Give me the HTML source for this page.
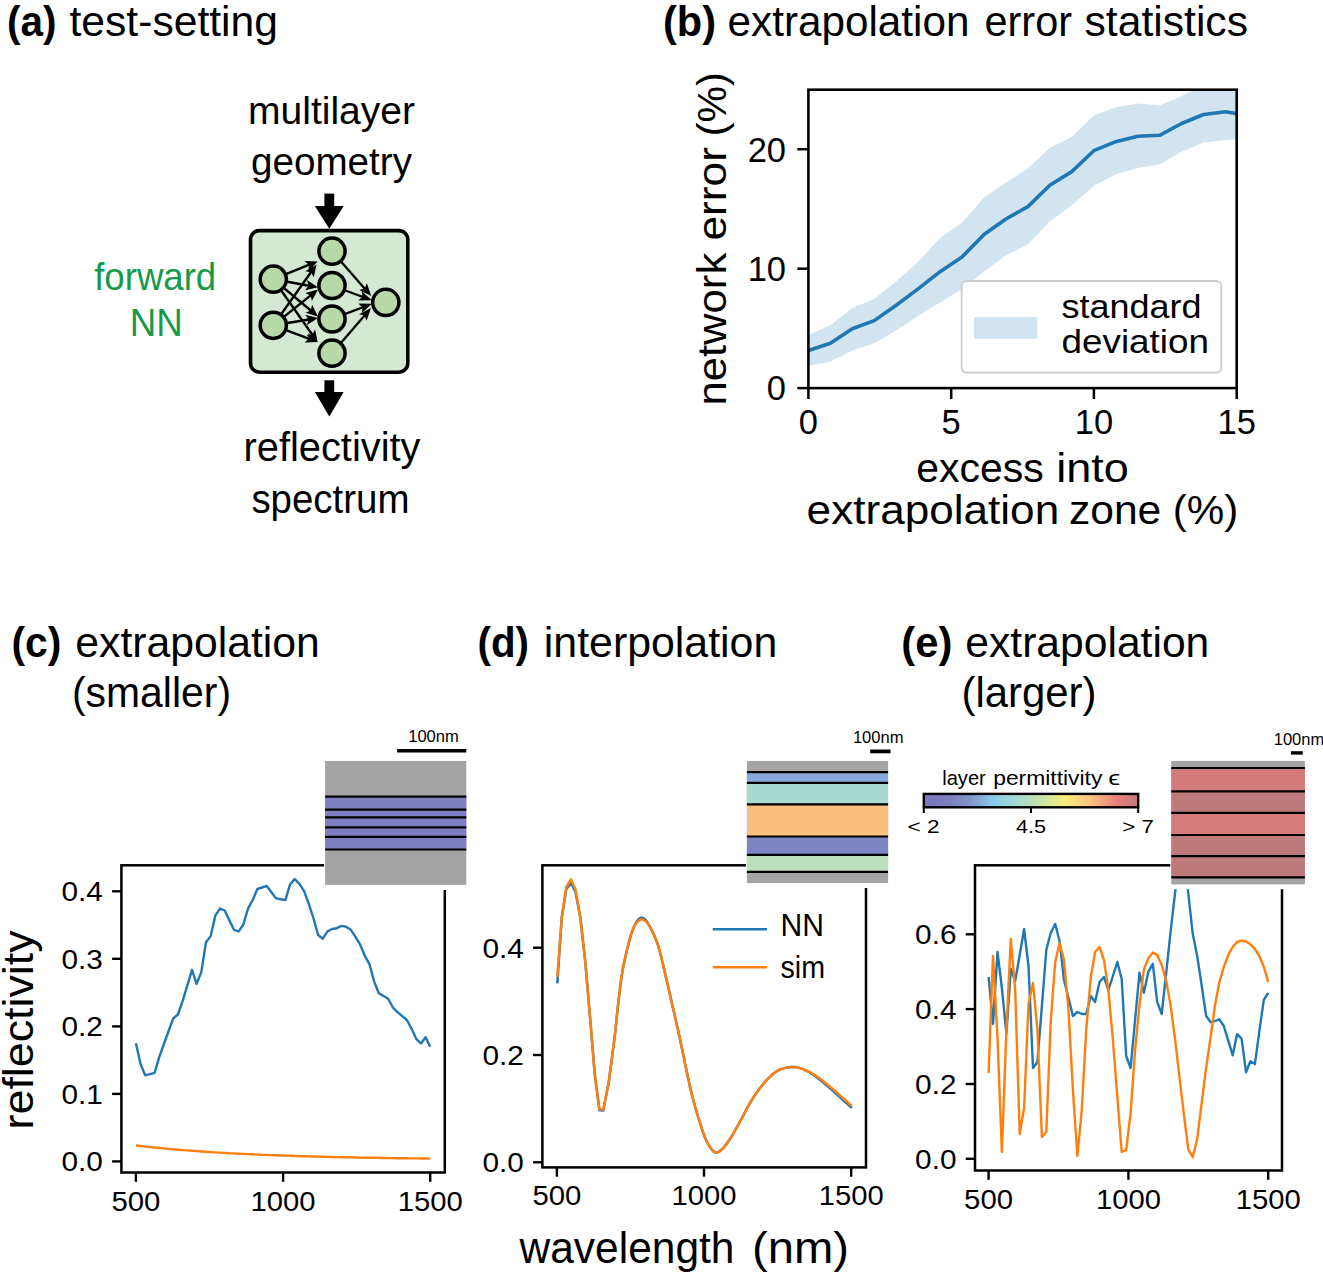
<!DOCTYPE html>
<html><head><meta charset="utf-8"><style>
html,body{margin:0;padding:0;background:#fff;overflow:hidden}
svg{display:block;font-family:"Liberation Sans",sans-serif}
</style></head><body>
<svg width="1323" height="1275" viewBox="0 0 1323 1275">
<rect width="1323" height="1275" fill="#fff"/>
<text x="7.0" y="35.8" font-size="42" text-anchor="start" font-weight="bold" fill="#000" textLength="49.5" lengthAdjust="spacingAndGlyphs" >(a)</text>
<text x="69.5" y="35.8" font-size="42" text-anchor="start" font-weight="normal" fill="#000" textLength="208.5" lengthAdjust="spacingAndGlyphs" >test-setting</text>
<text x="331.5" y="123.7" font-size="38" text-anchor="middle" font-weight="normal" fill="#000" textLength="167.0" lengthAdjust="spacingAndGlyphs" >multilayer</text>
<text x="331.5" y="175.2" font-size="38" text-anchor="middle" font-weight="normal" fill="#000" textLength="161.0" lengthAdjust="spacingAndGlyphs" >geometry</text>
<text x="155.2" y="289.7" font-size="39" text-anchor="middle" font-weight="normal" fill="#169a4a" textLength="122.0" lengthAdjust="spacingAndGlyphs" >forward</text>
<text x="156.2" y="336.1" font-size="39" text-anchor="middle" font-weight="normal" fill="#169a4a" textLength="53.0" lengthAdjust="spacingAndGlyphs" >NN</text>
<text x="332.0" y="461.1" font-size="40" text-anchor="middle" font-weight="normal" fill="#000" textLength="177.0" lengthAdjust="spacingAndGlyphs" >reflectivity</text>
<text x="330.4" y="513.0" font-size="40" text-anchor="middle" font-weight="normal" fill="#000" textLength="158.0" lengthAdjust="spacingAndGlyphs" >spectrum</text>
<rect x="324.4" y="193.6" width="9.8" height="13.3" fill="#000"/>
<polygon points="314.9,205.9 343.7,205.9 329.3,228.8" fill="#000"/>
<rect x="324.4" y="380.3" width="9.8" height="12.7" fill="#000"/>
<polygon points="314.9,392.0 343.7,392.0 329.3,416.4" fill="#000"/>
<rect x="250.5" y="230.6" width="157.3" height="141.6" rx="9" ry="9" fill="#d5e8d4" stroke="#000" stroke-width="3.6"/>
<line x1="286.6" y1="273.9" x2="309.3" y2="264.7" stroke="#000" stroke-width="2.5"/>
<polygon points="317.7,261.4 308.5,270.7 308.9,264.9 304.6,261.0" fill="#000"/>
<line x1="287.4" y1="281.8" x2="309.0" y2="285.7" stroke="#000" stroke-width="2.5"/>
<polygon points="317.9,287.3 305.2,290.3 308.6,285.6 307.0,280.0" fill="#000"/>
<line x1="284.3" y1="288.4" x2="311.1" y2="310.7" stroke="#000" stroke-width="2.5"/>
<polygon points="318.0,316.5 305.5,312.8 310.7,310.4 312.1,304.8" fill="#000"/>
<line x1="281.5" y1="290.9" x2="312.5" y2="335.0" stroke="#000" stroke-width="2.5"/>
<polygon points="317.7,342.4 306.5,335.6 312.2,334.6 315.1,329.6" fill="#000"/>
<line x1="281.6" y1="313.6" x2="311.3" y2="271.8" stroke="#000" stroke-width="2.5"/>
<polygon points="316.5,264.5 313.8,277.3 311.0,272.2 305.3,271.3" fill="#000"/>
<line x1="284.5" y1="316.4" x2="311.0" y2="295.1" stroke="#000" stroke-width="2.5"/>
<polygon points="318.0,289.5 311.9,301.1 310.6,295.4 305.4,292.9" fill="#000"/>
<line x1="287.4" y1="323.0" x2="309.1" y2="319.5" stroke="#000" stroke-width="2.5"/>
<polygon points="318.0,318.0 307.0,325.1 308.6,319.5 305.3,314.8" fill="#000"/>
<line x1="286.7" y1="330.3" x2="309.3" y2="338.8" stroke="#000" stroke-width="2.5"/>
<polygon points="317.7,342.0 304.6,342.6 308.8,338.7 308.3,332.9" fill="#000"/>
<line x1="341.4" y1="261.9" x2="365.0" y2="288.9" stroke="#000" stroke-width="2.3"/>
<polygon points="371.3,296.0 359.3,289.9 364.7,288.5 366.8,283.3" fill="#000"/>
<line x1="345.4" y1="290.5" x2="362.9" y2="297.0" stroke="#000" stroke-width="2.3"/>
<polygon points="371.8,300.3 358.3,300.6 362.4,296.8 361.8,291.3" fill="#000"/>
<line x1="345.4" y1="313.9" x2="362.9" y2="307.2" stroke="#000" stroke-width="2.3"/>
<polygon points="371.8,303.8 361.9,312.9 362.5,307.4 358.3,303.6" fill="#000"/>
<line x1="341.3" y1="342.4" x2="364.8" y2="315.2" stroke="#000" stroke-width="2.3"/>
<polygon points="371.0,308.0 366.6,320.7 364.5,315.6 359.0,314.2" fill="#000"/>
<circle cx="273.3" cy="279.2" r="13.1" fill="#b6d9a7" stroke="#000" stroke-width="3.5"/>
<circle cx="273.3" cy="325.3" r="13.1" fill="#b6d9a7" stroke="#000" stroke-width="3.5"/>
<circle cx="332.0" cy="251.2" r="13.1" fill="#b6d9a7" stroke="#000" stroke-width="3.5"/>
<circle cx="332.0" cy="285.5" r="13.1" fill="#b6d9a7" stroke="#000" stroke-width="3.5"/>
<circle cx="332.0" cy="319.0" r="13.1" fill="#b6d9a7" stroke="#000" stroke-width="3.5"/>
<circle cx="332.0" cy="353.2" r="13.1" fill="#b6d9a7" stroke="#000" stroke-width="3.5"/>
<circle cx="385.8" cy="302.4" r="13.1" fill="#b6d9a7" stroke="#000" stroke-width="3.5"/>
<text x="663.0" y="35.8" font-size="42" text-anchor="start" font-weight="bold" fill="#000" textLength="53.0" lengthAdjust="spacingAndGlyphs" >(b)</text>
<text x="727.5" y="35.8" font-size="42" text-anchor="start" font-weight="normal" fill="#000" textLength="242.0" lengthAdjust="spacingAndGlyphs" >extrapolation</text>
<text x="984.5" y="35.8" font-size="42" text-anchor="start" font-weight="normal" fill="#000" textLength="87.5" lengthAdjust="spacingAndGlyphs" >error</text>
<text x="1084.5" y="35.8" font-size="42" text-anchor="start" font-weight="normal" fill="#000" textLength="163.5" lengthAdjust="spacingAndGlyphs" >statistics</text>
<defs><clipPath id="clipb"><rect x="808.4" y="89.7" width="428.30000000000007" height="298.40000000000003"/></clipPath></defs>
<polygon points="808.4,335.1 830.4,325.2 852.3,307.9 874.2,298.9 896.2,281.6 918.1,261.7 940.1,238.1 962.0,222.8 984.0,197.4 1005.9,182.4 1027.9,168.5 1049.8,148.0 1071.8,137.1 1093.8,115.4 1115.7,107.2 1137.7,103.6 1159.6,105.4 1181.5,96.3 1203.5,84.0 1225.5,78.0 1247.4,78.0 1247.4,138.5 1225.5,139.9 1203.5,142.6 1181.5,151.7 1159.6,164.4 1137.7,168.0 1115.7,174.3 1093.8,186.1 1071.8,205.2 1049.8,221.5 1027.9,244.3 1005.9,255.5 984.0,271.7 962.0,288.9 940.1,302.5 918.1,316.1 896.2,330.6 874.2,343.3 852.3,350.6 830.4,361.5 808.4,366.0" fill="#d2e4f0" clip-path="url(#clipb)"/>
<polyline points="808.4,350.6 830.4,343.3 852.3,328.8 874.2,320.6 896.2,305.2 918.1,288.9 940.1,271.7 962.0,257.1 984.0,234.5 1005.9,219.0 1027.9,206.6 1049.8,185.2 1071.8,171.6 1093.8,150.7 1115.7,141.7 1137.7,136.2 1159.6,135.3 1181.5,123.5 1203.5,114.5 1225.5,111.7 1247.4,115.4" fill="none" stroke="#1f77b4" stroke-width="3.6" stroke-linejoin="round" stroke-linecap="butt" clip-path="url(#clipb)"/>
<rect x="961.6" y="281.0" width="259.7" height="91.6" rx="5" ry="5" fill="#fff" fill-opacity="0.8" stroke="#cccccc" stroke-width="1.8"/>
<rect x="973.9" y="317.0" width="63.3" height="21.8" fill="#d2e4f0" />
<text x="1061.5" y="317.6" font-size="32.5" text-anchor="start" font-weight="normal" fill="#000" textLength="140.0" lengthAdjust="spacingAndGlyphs" >standard</text>
<text x="1061.5" y="352.5" font-size="32.5" text-anchor="start" font-weight="normal" fill="#000" textLength="147.5" lengthAdjust="spacingAndGlyphs" >deviation</text>
<rect x="808.4" y="89.7" width="428.30000000000007" height="298.40000000000003" fill="none" stroke="#000" stroke-width="2.6"/>
<line x1="797.3" y1="388.1" x2="808.4" y2="388.1" stroke="#000" stroke-width="2.5" />
<text x="786.0" y="400.4" font-size="34.5" text-anchor="end" font-weight="normal" fill="#000" >0</text>
<line x1="797.3" y1="268.7" x2="808.4" y2="268.7" stroke="#000" stroke-width="2.5" />
<text x="786.0" y="281.0" font-size="34.5" text-anchor="end" font-weight="normal" fill="#000" >10</text>
<line x1="797.3" y1="149.2" x2="808.4" y2="149.2" stroke="#000" stroke-width="2.5" />
<text x="786.0" y="161.5" font-size="34.5" text-anchor="end" font-weight="normal" fill="#000" >20</text>
<line x1="808.4" y1="388.1" x2="808.4" y2="399.0" stroke="#000" stroke-width="2.5" />
<text x="808.4" y="434.3" font-size="34.5" text-anchor="middle" font-weight="normal" fill="#000" >0</text>
<line x1="951.2" y1="388.1" x2="951.2" y2="399.0" stroke="#000" stroke-width="2.5" />
<text x="951.2" y="434.3" font-size="34.5" text-anchor="middle" font-weight="normal" fill="#000" >5</text>
<line x1="1093.9" y1="388.1" x2="1093.9" y2="399.0" stroke="#000" stroke-width="2.5" />
<text x="1093.9" y="434.3" font-size="34.5" text-anchor="middle" font-weight="normal" fill="#000" >10</text>
<line x1="1236.7" y1="388.1" x2="1236.7" y2="399.0" stroke="#000" stroke-width="2.5" />
<text x="1236.7" y="434.3" font-size="34.5" text-anchor="middle" font-weight="normal" fill="#000" >15</text>
<text x="916.2" y="482.0" font-size="40" text-anchor="start" font-weight="normal" fill="#000" textLength="127.5" lengthAdjust="spacingAndGlyphs" >excess</text>
<text x="1056.3" y="482.0" font-size="40" text-anchor="start" font-weight="normal" fill="#000" textLength="72.6" lengthAdjust="spacingAndGlyphs" >into</text>
<text x="806.6" y="524.0" font-size="40" text-anchor="start" font-weight="normal" fill="#000" textLength="252.6" lengthAdjust="spacingAndGlyphs" >extrapolation</text>
<text x="1068.9" y="524.0" font-size="40" text-anchor="start" font-weight="normal" fill="#000" textLength="92.4" lengthAdjust="spacingAndGlyphs" >zone</text>
<text x="1172.8" y="524.0" font-size="40" text-anchor="start" font-weight="normal" fill="#000" textLength="65.6" lengthAdjust="spacingAndGlyphs" >(%)</text>
<g transform="translate(726.3,0) rotate(-90)">
<text x="-405.6" y="0.0" font-size="40" text-anchor="start" font-weight="normal" fill="#000" textLength="152.8" lengthAdjust="spacingAndGlyphs" >network</text>
<text x="-240.6" y="0.0" font-size="40" text-anchor="start" font-weight="normal" fill="#000" textLength="93.5" lengthAdjust="spacingAndGlyphs" >error</text>
<text x="-136.2" y="0.0" font-size="40" text-anchor="start" font-weight="normal" fill="#000" textLength="63.9" lengthAdjust="spacingAndGlyphs" >(%)</text>
</g>
<text x="11.5" y="656.5" font-size="42" text-anchor="start" font-weight="bold" fill="#000" textLength="50.0" lengthAdjust="spacingAndGlyphs" >(c)</text>
<text x="75.3" y="656.5" font-size="42" text-anchor="start" font-weight="normal" fill="#000" textLength="244.5" lengthAdjust="spacingAndGlyphs" >extrapolation</text>
<text x="72.0" y="706.8" font-size="42" text-anchor="start" font-weight="normal" fill="#000" textLength="159.0" lengthAdjust="spacingAndGlyphs" >(smaller)</text>
<rect x="121.4" y="865.3" width="323.4" height="307.20000000000005" fill="none" stroke="#000" stroke-width="2.5"/>
<line x1="112.1" y1="1161.4" x2="121.4" y2="1161.4" stroke="#000" stroke-width="2.4" />
<text x="102.9" y="1171.2" font-size="27.5" text-anchor="end" font-weight="normal" fill="#000" textLength="41.4" lengthAdjust="spacingAndGlyphs" >0.0</text>
<line x1="112.1" y1="1093.9" x2="121.4" y2="1093.9" stroke="#000" stroke-width="2.4" />
<text x="102.9" y="1103.7" font-size="27.5" text-anchor="end" font-weight="normal" fill="#000" textLength="41.4" lengthAdjust="spacingAndGlyphs" >0.1</text>
<line x1="112.1" y1="1026.4" x2="121.4" y2="1026.4" stroke="#000" stroke-width="2.4" />
<text x="102.9" y="1036.2" font-size="27.5" text-anchor="end" font-weight="normal" fill="#000" textLength="41.4" lengthAdjust="spacingAndGlyphs" >0.2</text>
<line x1="112.1" y1="958.8" x2="121.4" y2="958.8" stroke="#000" stroke-width="2.4" />
<text x="102.9" y="968.6" font-size="27.5" text-anchor="end" font-weight="normal" fill="#000" textLength="41.4" lengthAdjust="spacingAndGlyphs" >0.3</text>
<line x1="112.1" y1="891.3" x2="121.4" y2="891.3" stroke="#000" stroke-width="2.4" />
<text x="102.9" y="901.1" font-size="27.5" text-anchor="end" font-weight="normal" fill="#000" textLength="41.4" lengthAdjust="spacingAndGlyphs" >0.4</text>
<line x1="135.9" y1="1172.5" x2="135.9" y2="1181.8" stroke="#000" stroke-width="2.4" />
<text x="135.9" y="1210.5" font-size="27.5" text-anchor="middle" font-weight="normal" fill="#000" textLength="49.0" lengthAdjust="spacingAndGlyphs" >500</text>
<line x1="283.1" y1="1172.5" x2="283.1" y2="1181.8" stroke="#000" stroke-width="2.4" />
<text x="283.1" y="1210.5" font-size="27.5" text-anchor="middle" font-weight="normal" fill="#000" textLength="65.0" lengthAdjust="spacingAndGlyphs" >1000</text>
<line x1="430.2" y1="1172.5" x2="430.2" y2="1181.8" stroke="#000" stroke-width="2.4" />
<text x="430.2" y="1210.5" font-size="27.5" text-anchor="middle" font-weight="normal" fill="#000" textLength="65.0" lengthAdjust="spacingAndGlyphs" >1500</text>
<polyline points="135.9,1043.3 140.6,1064.1 145.2,1075.3 149.9,1074.1 154.6,1072.9 159.3,1056.9 163.9,1044.0 168.6,1031.0 173.3,1018.4 177.9,1014.5 182.6,1001.2 187.3,985.5 192.0,969.8 196.6,983.9 201.3,972.1 206.0,942.3 210.7,936.1 215.3,915.7 220.0,908.6 224.7,910.5 229.3,920.2 234.0,929.8 238.7,931.4 243.4,924.3 248.0,908.6 252.7,900.0 257.4,889.0 262.0,887.5 266.7,885.9 271.4,892.2 276.1,898.4 280.7,899.2 285.4,900.0 290.1,884.3 294.7,879.1 299.4,883.8 304.1,891.1 308.8,903.9 313.4,918.0 318.1,935.0 322.8,938.7 327.5,931.4 332.1,929.0 336.8,928.2 341.5,925.9 346.1,926.7 350.8,929.8 355.5,936.9 360.2,944.7 364.8,955.7 369.5,964.3 374.2,981.6 378.8,993.3 383.5,996.0 388.2,998.8 392.9,1007.5 397.5,1012.2 402.2,1016.1 406.9,1020.0 411.5,1028.6 416.2,1038.8 420.9,1043.5 425.6,1037.3 430.2,1046.7" fill="none" stroke="#1f77b4" stroke-width="2.4" stroke-linejoin="round" stroke-linecap="butt" />
<polyline points="135.9,1145.5 140.6,1146.0 145.2,1146.6 149.9,1147.1 154.6,1147.5 159.3,1148.0 163.9,1148.4 168.6,1148.9 173.3,1149.3 177.9,1149.7 182.6,1150.1 187.3,1150.4 192.0,1150.8 196.6,1151.1 201.3,1151.5 206.0,1151.8 210.6,1152.1 215.3,1152.4 220.0,1152.6 224.7,1152.9 229.3,1153.2 234.0,1153.4 238.7,1153.7 243.3,1153.9 248.0,1154.1 252.7,1154.3 257.4,1154.6 262.0,1154.8 266.7,1154.9 271.4,1155.1 276.0,1155.3 280.7,1155.5 285.4,1155.6 290.1,1155.8 294.7,1156.0 299.4,1156.1 304.1,1156.3 308.7,1156.4 313.4,1156.5 318.1,1156.6 322.8,1156.8 327.4,1156.9 332.1,1157.0 336.8,1157.1 341.4,1157.2 346.1,1157.3 350.8,1157.4 355.5,1157.5 360.1,1157.6 364.8,1157.7 369.5,1157.8 374.1,1157.8 378.8,1157.9 383.5,1158.0 388.2,1158.1 392.8,1158.1 397.5,1158.2 402.2,1158.3 406.8,1158.3 411.5,1158.4 416.2,1158.4 420.9,1158.5 425.5,1158.5 430.2,1158.6" fill="none" stroke="#ff7f0e" stroke-width="2.4" stroke-linejoin="round" stroke-linecap="butt" />
<text x="0.0" y="0.0" font-size="42" text-anchor="middle" font-weight="normal" fill="#000" textLength="199.0" lengthAdjust="spacingAndGlyphs" transform="translate(32.8,1029.9) rotate(-90)">reflectivity</text>
<text x="477.5" y="656.5" font-size="42" text-anchor="start" font-weight="bold" fill="#000" textLength="51.5" lengthAdjust="spacingAndGlyphs" >(d)</text>
<text x="543.8" y="656.5" font-size="42" text-anchor="start" font-weight="normal" fill="#000" textLength="233.5" lengthAdjust="spacingAndGlyphs" >interpolation</text>
<rect x="542.4" y="865.3" width="323.6" height="302.10000000000014" fill="none" stroke="#000" stroke-width="2.5"/>
<line x1="533.1" y1="1162.3" x2="542.4" y2="1162.3" stroke="#000" stroke-width="2.4" />
<text x="523.9" y="1172.1" font-size="27.5" text-anchor="end" font-weight="normal" fill="#000" textLength="41.4" lengthAdjust="spacingAndGlyphs" >0.0</text>
<line x1="533.1" y1="1055.0" x2="542.4" y2="1055.0" stroke="#000" stroke-width="2.4" />
<text x="523.9" y="1064.8" font-size="27.5" text-anchor="end" font-weight="normal" fill="#000" textLength="41.4" lengthAdjust="spacingAndGlyphs" >0.2</text>
<line x1="533.1" y1="947.7" x2="542.4" y2="947.7" stroke="#000" stroke-width="2.4" />
<text x="523.9" y="957.5" font-size="27.5" text-anchor="end" font-weight="normal" fill="#000" textLength="41.4" lengthAdjust="spacingAndGlyphs" >0.4</text>
<line x1="556.9" y1="1167.4" x2="556.9" y2="1176.7" stroke="#000" stroke-width="2.4" />
<text x="556.9" y="1205.4" font-size="27.5" text-anchor="middle" font-weight="normal" fill="#000" textLength="49.0" lengthAdjust="spacingAndGlyphs" >500</text>
<line x1="704.0" y1="1167.4" x2="704.0" y2="1176.7" stroke="#000" stroke-width="2.4" />
<text x="704.0" y="1205.4" font-size="27.5" text-anchor="middle" font-weight="normal" fill="#000" textLength="65.0" lengthAdjust="spacingAndGlyphs" >1000</text>
<line x1="851.2" y1="1167.4" x2="851.2" y2="1176.7" stroke="#000" stroke-width="2.4" />
<text x="851.2" y="1205.4" font-size="27.5" text-anchor="middle" font-weight="normal" fill="#000" textLength="65.0" lengthAdjust="spacingAndGlyphs" >1500</text>
<polyline points="557.3,983.3 561.8,917.1 566.3,889.0 571.0,882.7 575.5,892.0 580.4,918.0 585.3,962.2 590.2,1019.0 594.7,1073.9 599.4,1110.2 603.3,1110.6 608.8,1081.8 609.5,1076.7 610.4,1069.4 611.6,1060.9 612.7,1052.0 613.8,1043.7 614.7,1036.7 615.3,1031.3 615.8,1026.7 616.2,1022.7 616.6,1018.8 617.0,1014.7 617.5,1010.0 618.1,1004.5 618.8,998.4 619.6,992.1 620.3,985.9 621.1,980.1 621.8,975.1 622.5,970.9 623.1,967.3 623.8,964.1 624.4,961.2 625.1,958.4 625.7,955.5 626.4,952.6 627.0,949.8 627.7,947.2 628.3,944.6 629.0,942.1 629.6,939.8 630.2,937.6 630.9,935.4 631.5,933.4 632.2,931.5 632.8,929.7 633.5,928.0 634.2,926.4 634.8,925.0 635.5,923.7 636.2,922.5 636.8,921.4 637.5,920.5 638.2,919.7 638.8,919.1 639.4,918.5 640.1,918.2 640.7,917.9 641.4,917.8 642.1,917.8 642.8,918.0 643.5,918.3 644.3,918.7 645.0,919.3 645.7,920.0 646.4,920.9 647.1,921.9 647.9,923.1 648.6,924.3 649.3,925.6 650.0,926.9 650.7,928.1 651.3,929.4 652.0,930.7 652.6,932.0 653.3,933.5 654.0,935.1 654.7,936.8 655.5,938.5 656.2,940.4 657.0,942.5 657.9,944.8 658.7,947.5 659.6,950.6 660.5,954.2 661.5,958.0 662.4,962.0 663.4,966.0 664.3,970.0 665.2,973.9 666.1,977.9 667.1,981.9 668.0,985.9 668.9,990.0 669.8,994.0 670.7,998.0 671.6,1002.0 672.5,1006.0 673.5,1010.0 674.4,1014.0 675.3,1018.1 676.2,1022.2 677.1,1026.3 678.1,1030.5 679.0,1034.7 679.9,1038.8 680.8,1043.0 681.7,1047.2 682.6,1051.4 683.4,1055.6 684.3,1059.8 685.1,1063.9 686.0,1068.0 686.8,1072.0 687.7,1075.9 688.5,1079.8 689.3,1083.6 690.1,1087.4 691.0,1091.0 691.9,1094.6 692.8,1098.1 693.7,1101.5 694.6,1104.8 695.5,1108.0 696.4,1111.0 697.2,1113.8 698.0,1116.5 698.8,1119.0 699.5,1121.4 700.3,1123.7 701.0,1126.0 701.7,1128.2 702.4,1130.3 703.1,1132.4 703.8,1134.3 704.5,1136.2 705.2,1138.0 706.0,1139.7 706.7,1141.4 707.5,1142.9 708.3,1144.4 709.2,1145.7 710.0,1147.0 710.8,1148.2 711.7,1149.4 712.5,1150.4 713.4,1151.3 714.3,1152.0 715.2,1152.4 716.1,1152.5 717.1,1152.4 718.1,1152.1 719.1,1151.6 720.2,1150.9 721.3,1149.9 722.5,1148.7 723.8,1147.3 725.2,1145.7 726.6,1143.8 728.0,1141.8 729.5,1139.7 731.0,1137.4 732.6,1134.8 734.2,1132.0 735.8,1129.2 737.4,1126.3 739.0,1123.4 740.6,1120.5 742.2,1117.5 743.8,1114.5 745.3,1111.5 746.9,1108.5 748.5,1105.7 750.1,1103.0 751.6,1100.4 753.2,1097.9 754.7,1095.4 756.3,1093.0 758.0,1090.7 759.7,1088.4 761.5,1086.1 763.4,1083.8 765.2,1081.7 767.1,1079.6 768.9,1077.8 770.7,1076.1 772.4,1074.5 774.2,1073.1 776.0,1071.8 777.8,1070.7 779.8,1069.7 781.9,1068.9 784.2,1068.1 786.5,1067.6 788.9,1067.2 791.2,1066.9 793.4,1066.9 795.5,1067.1 797.6,1067.4 799.6,1067.9 801.6,1068.6 803.6,1069.4 805.6,1070.3 807.6,1071.3 809.6,1072.5 811.7,1073.8 813.7,1075.1 815.8,1076.6 817.9,1078.2 820.1,1079.9 822.4,1081.8 824.8,1083.8 827.1,1085.8 829.4,1087.7 831.5,1089.6 833.5,1091.4 835.4,1093.1 837.2,1094.7 839.0,1096.4 840.7,1097.9 842.4,1099.5 844.2,1101.1 846.0,1102.8 847.8,1104.4 849.5,1105.8 850.9,1107.1 851.9,1108.0" fill="none" stroke="#1f77b4" stroke-width="2.5" stroke-linejoin="round" stroke-linecap="butt" />
<polyline points="557.3,976.9 561.8,917.1 566.3,886.7 571.0,879.4 575.5,889.6 580.4,918.0 585.3,962.2 590.2,1019.0 594.7,1073.9 599.4,1109.2 603.3,1109.6 608.8,1081.8 609.5,1076.7 610.4,1069.4 611.6,1060.9 612.7,1052.0 613.8,1043.7 614.7,1036.7 615.3,1031.3 615.8,1026.7 616.2,1022.7 616.6,1018.8 617.0,1014.7 617.5,1010.0 618.1,1004.5 618.8,998.4 619.6,992.1 620.3,985.9 621.1,980.1 621.8,975.1 622.5,970.9 623.1,967.3 623.8,964.1 624.4,961.2 625.1,958.4 625.7,955.5 626.4,952.6 627.0,949.8 627.7,947.2 628.3,944.6 629.0,942.1 629.6,939.8 630.2,937.5 630.9,935.4 631.5,933.3 632.2,931.4 632.8,929.6 633.5,928.0 634.2,926.6 634.8,925.4 635.5,924.3 636.2,923.4 636.8,922.5 637.5,921.8 638.2,921.1 638.8,920.6 639.4,920.1 640.1,919.7 640.7,919.5 641.4,919.4 642.1,919.4 642.8,919.6 643.5,919.9 644.3,920.3 645.0,920.8 645.7,921.4 646.4,922.1 647.1,922.9 647.9,923.8 648.6,924.7 649.3,925.8 650.0,926.9 650.7,928.1 651.3,929.3 652.0,930.6 652.6,932.0 653.3,933.5 654.0,935.1 654.7,936.8 655.5,938.5 656.2,940.4 657.0,942.5 657.9,944.8 658.7,947.5 659.6,950.6 660.5,954.2 661.5,958.0 662.4,962.0 663.4,966.0 664.3,970.0 665.2,973.9 666.1,977.9 667.1,981.9 668.0,985.9 668.9,990.0 669.8,994.0 670.7,998.0 671.6,1002.0 672.5,1006.0 673.5,1010.0 674.4,1014.0 675.3,1018.1 676.2,1022.2 677.1,1026.3 678.1,1030.5 679.0,1034.7 679.9,1038.8 680.8,1043.0 681.7,1047.2 682.6,1051.4 683.4,1055.6 684.3,1059.8 685.1,1063.9 686.0,1068.0 686.8,1072.0 687.7,1075.9 688.5,1079.8 689.3,1083.6 690.1,1087.4 691.0,1091.0 691.9,1094.6 692.8,1098.1 693.7,1101.5 694.6,1104.8 695.5,1108.0 696.4,1111.0 697.2,1113.8 698.0,1116.5 698.8,1119.0 699.5,1121.4 700.3,1123.7 701.0,1126.0 701.7,1128.2 702.4,1130.3 703.1,1132.4 703.8,1134.3 704.5,1136.2 705.2,1138.0 706.0,1139.7 706.7,1141.4 707.5,1142.9 708.3,1144.4 709.2,1145.7 710.0,1147.0 710.8,1148.2 711.7,1149.4 712.5,1150.4 713.4,1151.3 714.3,1152.0 715.2,1152.4 716.1,1152.5 717.1,1152.4 718.1,1152.1 719.1,1151.6 720.2,1150.9 721.3,1149.9 722.5,1148.7 723.8,1147.3 725.2,1145.7 726.6,1143.8 728.0,1141.8 729.5,1139.7 731.0,1137.4 732.6,1134.8 734.2,1132.0 735.8,1129.2 737.4,1126.3 739.0,1123.4 740.6,1120.5 742.2,1117.5 743.8,1114.5 745.3,1111.5 746.9,1108.5 748.5,1105.7 750.1,1103.0 751.6,1100.4 753.2,1097.9 754.7,1095.4 756.3,1093.0 758.0,1090.7 759.7,1088.4 761.5,1086.1 763.4,1083.8 765.2,1081.7 767.1,1079.6 768.9,1077.8 770.7,1076.1 772.4,1074.5 774.2,1073.1 776.0,1071.8 777.8,1070.7 779.8,1069.7 781.9,1068.9 784.2,1068.1 786.5,1067.6 788.9,1067.2 791.2,1066.9 793.4,1066.9 795.5,1067.1 797.6,1067.4 799.6,1068.0 801.6,1068.7 803.6,1069.5 805.6,1070.3 807.6,1071.2 809.6,1072.2 811.7,1073.2 813.7,1074.4 815.8,1075.7 817.9,1077.1 820.1,1078.7 822.4,1080.5 824.8,1082.4 827.1,1084.3 829.4,1086.2 831.5,1088.0 833.5,1089.7 835.4,1091.3 837.2,1093.0 839.0,1094.5 840.7,1096.1 842.4,1097.6 844.2,1099.2 846.0,1100.8 847.8,1102.4 849.5,1103.9 850.9,1105.1 851.9,1106.0" fill="none" stroke="#ff7f0e" stroke-width="2.5" stroke-linejoin="round" stroke-linecap="butt" />
<line x1="712.7" y1="929.3" x2="766.9" y2="929.3" stroke="#1f77b4" stroke-width="2.4" />
<line x1="712.7" y1="967.2" x2="766.9" y2="967.2" stroke="#ff7f0e" stroke-width="2.4" />
<text x="780.5" y="936.2" font-size="31" text-anchor="start" font-weight="normal" fill="#000" textLength="43.5" lengthAdjust="spacingAndGlyphs" >NN</text>
<text x="780.5" y="977.8" font-size="31" text-anchor="start" font-weight="normal" fill="#000" textLength="44.5" lengthAdjust="spacingAndGlyphs" >sim</text>
<text x="519.5" y="1263.1" font-size="45" text-anchor="start" font-weight="normal" fill="#000" textLength="215.0" lengthAdjust="spacingAndGlyphs" >wavelength</text>
<text x="752.0" y="1263.1" font-size="45" text-anchor="start" font-weight="normal" fill="#000" textLength="97.0" lengthAdjust="spacingAndGlyphs" >(nm)</text>
<text x="901.3" y="656.5" font-size="42" text-anchor="start" font-weight="bold" fill="#000" textLength="51.0" lengthAdjust="spacingAndGlyphs" >(e)</text>
<text x="965.3" y="656.5" font-size="42" text-anchor="start" font-weight="normal" fill="#000" textLength="244.0" lengthAdjust="spacingAndGlyphs" >extrapolation</text>
<text x="961.5" y="706.8" font-size="42" text-anchor="start" font-weight="normal" fill="#000" textLength="135.0" lengthAdjust="spacingAndGlyphs" >(larger)</text>
<rect x="975.0" y="865.3" width="307.0" height="305.20000000000005" fill="none" stroke="#000" stroke-width="2.5"/>
<line x1="965.7" y1="1158.8" x2="975.0" y2="1158.8" stroke="#000" stroke-width="2.4" />
<text x="956.5" y="1168.6" font-size="27.5" text-anchor="end" font-weight="normal" fill="#000" textLength="41.4" lengthAdjust="spacingAndGlyphs" >0.0</text>
<line x1="965.7" y1="1084.0" x2="975.0" y2="1084.0" stroke="#000" stroke-width="2.4" />
<text x="956.5" y="1093.8" font-size="27.5" text-anchor="end" font-weight="normal" fill="#000" textLength="41.4" lengthAdjust="spacingAndGlyphs" >0.2</text>
<line x1="965.7" y1="1009.1" x2="975.0" y2="1009.1" stroke="#000" stroke-width="2.4" />
<text x="956.5" y="1018.9" font-size="27.5" text-anchor="end" font-weight="normal" fill="#000" textLength="41.4" lengthAdjust="spacingAndGlyphs" >0.4</text>
<line x1="965.7" y1="934.3" x2="975.0" y2="934.3" stroke="#000" stroke-width="2.4" />
<text x="956.5" y="944.1" font-size="27.5" text-anchor="end" font-weight="normal" fill="#000" textLength="41.4" lengthAdjust="spacingAndGlyphs" >0.6</text>
<line x1="988.6" y1="1170.5" x2="988.6" y2="1179.8" stroke="#000" stroke-width="2.4" />
<text x="988.6" y="1208.5" font-size="27.5" text-anchor="middle" font-weight="normal" fill="#000" textLength="49.0" lengthAdjust="spacingAndGlyphs" >500</text>
<line x1="1128.4" y1="1170.5" x2="1128.4" y2="1179.8" stroke="#000" stroke-width="2.4" />
<text x="1128.4" y="1208.5" font-size="27.5" text-anchor="middle" font-weight="normal" fill="#000" textLength="65.0" lengthAdjust="spacingAndGlyphs" >1000</text>
<line x1="1268.2" y1="1170.5" x2="1268.2" y2="1179.8" stroke="#000" stroke-width="2.4" />
<text x="1268.2" y="1208.5" font-size="27.5" text-anchor="middle" font-weight="normal" fill="#000" textLength="65.0" lengthAdjust="spacingAndGlyphs" >1500</text>
<polyline points="988.6,977.0 993.0,1024.0 997.5,952.0 1001.9,988.0 1006.4,1034.0 1010.8,969.0 1015.2,981.0 1019.7,955.0 1024.1,929.0 1028.5,966.0 1033.0,1068.0 1037.4,1062.0 1041.9,1006.0 1046.3,950.0 1050.7,933.0 1055.2,924.0 1059.6,941.0 1064.0,980.0 1068.5,998.0 1072.9,1016.0 1077.4,1012.0 1081.8,1014.0 1086.2,1014.0 1090.7,996.0 1095.1,1002.0 1099.5,982.0 1104.0,977.0 1108.4,990.0 1112.9,976.0 1117.3,962.0 1121.7,979.0 1126.2,1056.0 1130.6,1068.0 1135.1,1020.0 1139.5,972.7 1143.9,992.8 1148.4,971.6 1152.8,963.8 1157.2,1001.8 1161.7,1014.1 1166.1,973.9 1170.6,931.4 1175.0,893.4 1179.4,860.0 1183.9,860.0 1188.3,893.4 1192.7,933.6 1197.2,956.0 1201.6,985.0 1206.1,1015.8 1210.5,1022.1 1214.9,1021.0 1219.4,1019.3 1223.8,1026.0 1228.3,1040.8 1232.7,1055.3 1237.1,1034.1 1241.6,1038.7 1246.0,1072.2 1250.4,1061.3 1254.9,1064.1 1259.3,1031.6 1263.8,999.9 1268.2,992.8" fill="none" stroke="#1f77b4" stroke-width="2.4" stroke-linejoin="round" stroke-linecap="butt" />
<polyline points="988.6,1073.0 993.0,956.0 997.5,1038.0 1001.9,1152.0 1006.4,1030.0 1010.8,939.0 1015.2,990.0 1019.7,1134.0 1024.1,1108.0 1028.5,1004.0 1033.0,983.0 1037.4,1030.0 1041.9,1137.0 1046.3,1132.0 1050.7,1022.0 1055.2,962.0 1059.6,943.0 1064.0,960.0 1068.5,1010.0 1072.9,1090.0 1077.4,1156.0 1081.8,1110.0 1086.2,1030.0 1090.7,978.0 1095.1,952.0 1099.5,947.0 1104.0,960.0 1108.4,990.0 1112.9,1040.0 1117.3,1096.0 1121.7,1152.0 1126.2,1150.0 1130.6,1113.0 1135.1,1050.0 1139.5,1005.1 1143.9,969.4 1148.4,958.2 1152.8,952.6 1157.2,954.9 1161.7,964.9 1166.1,980.6 1170.6,1005.1 1175.0,1038.7 1179.4,1076.6 1183.9,1114.6 1188.3,1149.3 1192.7,1157.1 1197.2,1139.2 1201.6,1103.5 1206.1,1068.0 1210.5,1038.0 1214.9,1006.0 1219.4,982.0 1223.8,967.0 1228.3,955.0 1232.7,947.0 1237.1,942.0 1241.6,940.7 1246.0,941.5 1250.4,944.3 1254.9,949.0 1259.3,956.0 1263.8,966.7 1268.2,981.9" fill="none" stroke="#ff7f0e" stroke-width="2.4" stroke-linejoin="round" stroke-linecap="butt" />
<rect x="324.1" y="759.0" width="143.2" height="131.0" fill="#fff" />
<rect x="325.1" y="761.0" width="141.2" height="123.9" fill="#a5a4a5" />
<rect x="325.1" y="796.7" width="141.2" height="52.8" fill="#7f7fbf" />
<line x1="325.1" y1="796.7" x2="466.3" y2="796.7" stroke="#000" stroke-width="2.2" />
<line x1="325.1" y1="809.7" x2="466.3" y2="809.7" stroke="#000" stroke-width="2.2" />
<line x1="325.1" y1="817.4" x2="466.3" y2="817.4" stroke="#000" stroke-width="2.2" />
<line x1="325.1" y1="827.3" x2="466.3" y2="827.3" stroke="#000" stroke-width="2.2" />
<line x1="325.1" y1="836.9" x2="466.3" y2="836.9" stroke="#000" stroke-width="2.2" />
<line x1="325.1" y1="849.5" x2="466.3" y2="849.5" stroke="#000" stroke-width="2.2" />
<line x1="397.1" y1="750.8" x2="466.3" y2="750.8" stroke="#000" stroke-width="3.6" />
<text x="433.5" y="742.3" font-size="17" text-anchor="middle" font-weight="normal" fill="#000" textLength="50.5" lengthAdjust="spacingAndGlyphs" >100nm</text>
<rect x="745.9" y="759.0" width="143.2" height="129.0" fill="#fff" />
<rect x="746.9" y="761.0" width="141.2" height="122.1" fill="#a5a4a5" />
<rect x="746.9" y="772.2" width="141.2" height="10.6" fill="#88a9da" />
<rect x="746.9" y="782.8" width="141.2" height="21.5" fill="#a8dad0" />
<rect x="746.9" y="804.3" width="141.2" height="32.2" fill="#f9be80" />
<rect x="746.9" y="836.5" width="141.2" height="18.3" fill="#7f84c2" />
<rect x="746.9" y="854.8" width="141.2" height="17.0" fill="#bce0bb" />
<line x1="746.9" y1="772.2" x2="888.1" y2="772.2" stroke="#000" stroke-width="2.2" />
<line x1="746.9" y1="782.8" x2="888.1" y2="782.8" stroke="#000" stroke-width="2.2" />
<line x1="746.9" y1="804.3" x2="888.1" y2="804.3" stroke="#000" stroke-width="2.2" />
<line x1="746.9" y1="836.5" x2="888.1" y2="836.5" stroke="#000" stroke-width="2.2" />
<line x1="746.9" y1="854.8" x2="888.1" y2="854.8" stroke="#000" stroke-width="2.2" />
<line x1="746.9" y1="871.8" x2="888.1" y2="871.8" stroke="#000" stroke-width="2.2" />
<line x1="870.2" y1="751.4" x2="890.5" y2="751.4" stroke="#000" stroke-width="3.8" />
<text x="878.2" y="743.3" font-size="17" text-anchor="middle" font-weight="normal" fill="#000" textLength="50.5" lengthAdjust="spacingAndGlyphs" >100nm</text>
<rect x="1170.3" y="758.9" width="135.6" height="130.3" fill="#fff" />
<rect x="1171.3" y="760.9" width="133.6" height="123.5" fill="#a5a4a5" />
<rect x="1171.3" y="768.0" width="133.6" height="23.3" fill="#d37b7b" />
<rect x="1171.3" y="791.3" width="133.6" height="21.6" fill="#be7a7a" />
<rect x="1171.3" y="812.9" width="133.6" height="22.1" fill="#d57b7b" />
<rect x="1171.3" y="835.0" width="133.6" height="21.2" fill="#be7a7a" />
<rect x="1171.3" y="856.2" width="133.6" height="21.2" fill="#be7a7a" />
<line x1="1171.3" y1="768.0" x2="1304.9" y2="768.0" stroke="#000" stroke-width="2.2" />
<line x1="1171.3" y1="791.3" x2="1304.9" y2="791.3" stroke="#000" stroke-width="2.2" />
<line x1="1171.3" y1="812.9" x2="1304.9" y2="812.9" stroke="#000" stroke-width="2.2" />
<line x1="1171.3" y1="835.0" x2="1304.9" y2="835.0" stroke="#000" stroke-width="2.2" />
<line x1="1171.3" y1="856.2" x2="1304.9" y2="856.2" stroke="#000" stroke-width="2.2" />
<line x1="1171.3" y1="877.4" x2="1304.9" y2="877.4" stroke="#000" stroke-width="2.2" />
<line x1="1291.0" y1="752.9" x2="1302.8" y2="752.9" stroke="#000" stroke-width="3.4" />
<text x="1299.0" y="745.1" font-size="17" text-anchor="middle" font-weight="normal" fill="#000" textLength="50.5" lengthAdjust="spacingAndGlyphs" >100nm</text>
<defs><linearGradient id="cb" x1="0" x2="1" y1="0" y2="0">
<stop offset="0" stop-color="#7b77bb"/><stop offset="0.12" stop-color="#7d7dbf"/><stop offset="0.22" stop-color="#8196cc"/>
<stop offset="0.33" stop-color="#89cdea"/><stop offset="0.45" stop-color="#a9dbcb"/><stop offset="0.55" stop-color="#c8e3a8"/>
<stop offset="0.66" stop-color="#f7ef7c"/><stop offset="0.78" stop-color="#f9c07e"/><stop offset="0.9" stop-color="#eb7f7c"/>
<stop offset="1" stop-color="#c07a7a"/></linearGradient></defs>
<rect x="923.8" y="793.9" width="214.4" height="13.4" fill="url(#cb)" stroke="#000" stroke-width="2.4"/>
<line x1="923.8" y1="807.3" x2="923.8" y2="813.0" stroke="#000" stroke-width="2.0" />
<line x1="1031.0" y1="807.3" x2="1031.0" y2="813.0" stroke="#000" stroke-width="2.0" />
<line x1="1138.2" y1="807.3" x2="1138.2" y2="813.0" stroke="#000" stroke-width="2.0" />
<text x="942.2" y="784.5" font-size="20.5" text-anchor="start" font-weight="normal" fill="#000" textLength="43.6" lengthAdjust="spacingAndGlyphs" >layer</text>
<text x="993.2" y="784.5" font-size="20.5" text-anchor="start" font-weight="normal" fill="#000" textLength="109.2" lengthAdjust="spacingAndGlyphs" >permittivity</text>
<text x="1108.2" y="784.5" font-size="21" text-anchor="start" font-weight="normal" fill="#000" textLength="11.9" lengthAdjust="spacingAndGlyphs" >ϵ</text>
<text x="923.5" y="833.2" font-size="18.5" text-anchor="middle" font-weight="normal" fill="#000" textLength="32.0" lengthAdjust="spacingAndGlyphs" >&lt; 2</text>
<text x="1031.0" y="833.2" font-size="18.5" text-anchor="middle" font-weight="normal" fill="#000" textLength="30.0" lengthAdjust="spacingAndGlyphs" >4.5</text>
<text x="1138.0" y="833.2" font-size="18.5" text-anchor="middle" font-weight="normal" fill="#000" textLength="31.5" lengthAdjust="spacingAndGlyphs" >&gt; 7</text>
</svg></body></html>
